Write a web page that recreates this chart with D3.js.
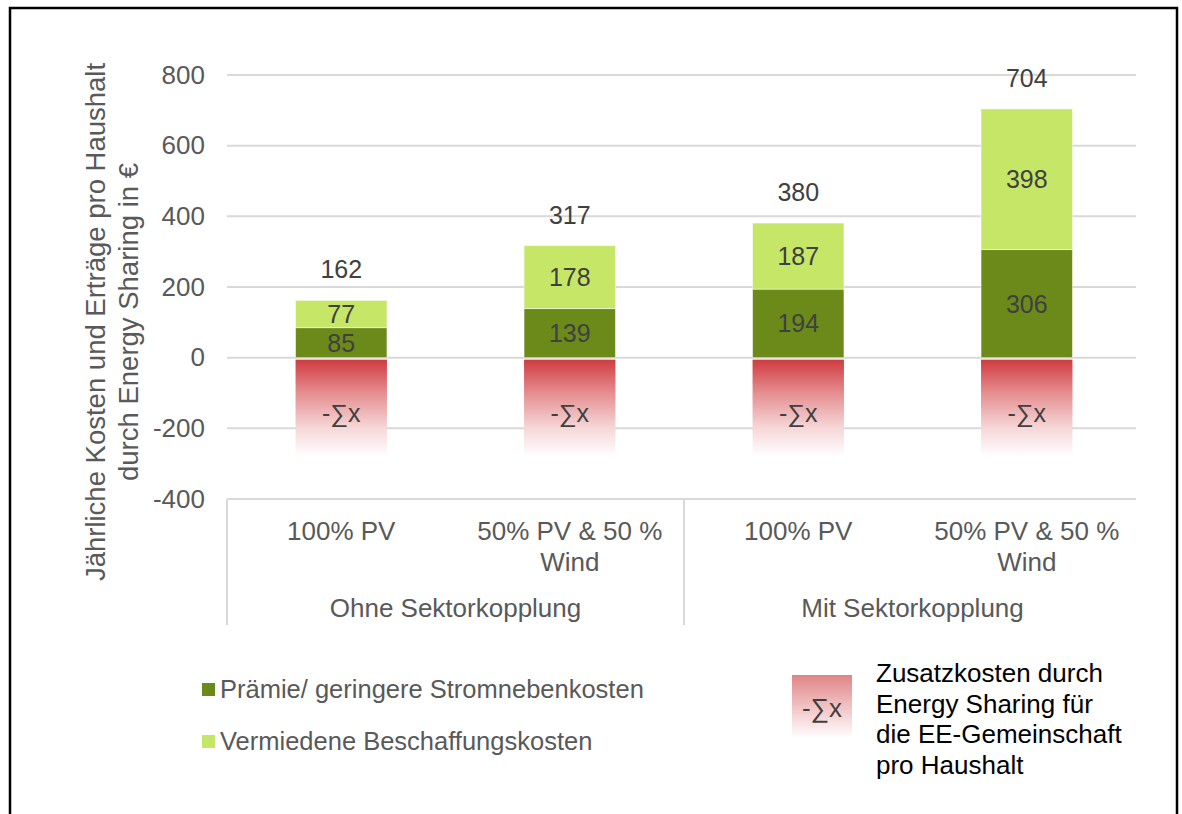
<!DOCTYPE html>
<html>
<head>
<meta charset="utf-8">
<script src="https://cdn.jsdelivr.net/npm/d3@7"></script>
<style>
    body { margin: 0; background: #fff; }
    text { font-family: "Liberation Sans", Arial, sans-serif; }
</style>
</head>
<body>
<div id="chart"></div>
<script>

// Data
const groups = ["Ohne Sektorkopplung", "Mit Sektorkopplung"];
const categories = [["100% PV"], ["50% PV & 50 %", "Wind"], ["100% PV"], ["50% PV & 50 %", "Wind"]];
const praemie = [85, 139, 194, 306];
const vermiedene = [77, 178, 187, 398];
const totals = [162, 317, 380, 704];
const zusatzkosten = [-280, -280, -280, -280];
const yTicks = [-400, -200, 0, 200, 400, 600, 800];
const legendLabels = ["Prämie/ geringere Stromnebenkosten", "Vermiedene Beschaffungskosten"];
const extraLegend = ["Zusatzkosten durch", "Energy Sharing für", "die EE-Gemeinschaft", "pro Haushalt"];

const width = 1182, height = 814;
const darkGreen = "#6b8a19", lightGreen = "#c5e666";
const tickColor = "#595959", labelColor = "#404040";

let svg = d3.select("#chart").append("svg")
    .attr("width", width)
    .attr("height", height);

// gradients
let defs = svg.append("defs");
let redGrad = defs.append("linearGradient")
    .attr("id", "redGrad")
    .attr("x1", 0).attr("y1", 0).attr("x2", 0).attr("y2", 1);
redGrad.append("stop").attr("offset", "0%").attr("stop-color", "#cf3b40");
redGrad.append("stop").attr("offset", "35%").attr("stop-color", "#e58f91");
redGrad.append("stop").attr("offset", "70%").attr("stop-color", "#f6d6d7");
redGrad.append("stop").attr("offset", "100%").attr("stop-color", "#ffffff");

let legGrad = defs.append("linearGradient")
    .attr("id", "legGrad")
    .attr("x1", 0).attr("y1", 0).attr("x2", 0).attr("y2", 1);
legGrad.append("stop").attr("offset", "0%").attr("stop-color", "#e08486");
legGrad.append("stop").attr("offset", "50%").attr("stop-color", "#f1c2c3");
legGrad.append("stop").attr("offset", "100%").attr("stop-color", "#ffffff");

// frame
svg.append("rect")
    .attr("x", 10).attr("y", 8)
    .attr("width", 1167).attr("height", 830)
    .attr("fill", "none")
    .attr("stroke", "#000")
    .attr("stroke-width", 2.5);

// scales
let y = d3.scaleLinear().domain([-400, 800]).range([499, 75]);
let x = d3.scaleBand().domain(d3.range(categories.length)).range([227, 1141]).padding(0);
let barW = x.bandwidth() * 0.4;
let barX = i => x(i) + (x.bandwidth() - barW) / 2;
let gridRight = 1136;

// gridlines
svg.append("g").selectAll("line")
    .data(yTicks)
    .enter().append("line")
    .attr("x1", x.range()[0])
    .attr("x2", gridRight)
    .attr("y1", d => y(d))
    .attr("y2", d => y(d))
    .attr("stroke", "#d9d9d9")
    .attr("stroke-width", 2);

// y axis labels (plain hyphen for negatives, like the original)
let yAxis = d3.axisLeft(y)
    .tickValues(yTicks)
    .tickSize(0)
    .tickPadding(0)
    .tickFormat(d => String(d));
let yG = svg.append("g")
    .attr("transform", "translate(205,0)")
    .call(yAxis);
yG.select(".domain").remove();
yG.selectAll("text")
    .attr("fill", tickColor)
    .style("font-size", "26px")
    .style("font-family", "'Liberation Sans', Arial, sans-serif");

// y title
let yTitle = ["Jährliche Kosten und Erträge pro Haushalt", "durch Energy Sharing in €"];
svg.selectAll(".y-title")
    .data(yTitle)
    .enter().append("text")
    .attr("class", "y-title")
    .attr("transform", (d, i) => "translate(" + (105 + i * 33) + ",322) rotate(-90)")
    .attr("text-anchor", "middle")
    .attr("fill", tickColor)
    .style("font-size", "27.5px")
    .text(d => d);

// negative (cost) bars
svg.append("g").selectAll("rect")
    .data(zusatzkosten)
    .enter().append("rect")
    .attr("x", (d, i) => barX(i))
    .attr("y", y(0) + 2)
    .attr("width", barW)
    .attr("height", d => y(d) - y(0) - 2)
    .attr("fill", "url(#redGrad)");

svg.append("g").selectAll("text")
    .data(zusatzkosten)
    .enter().append("text")
    .attr("x", (d, i) => barX(i) + barW / 2)
    .attr("y", 422)
    .attr("text-anchor", "middle")
    .attr("fill", labelColor)
    .style("font-size", "25px")
    .text("-∑x");

// stacked positive bars
let stacked = praemie.map((p, i) => [
    { y0: 0, y1: p, v: p, color: darkGreen },
    { y0: p, y1: p + vermiedene[i], v: vermiedene[i], color: lightGreen }
]);

let barG = svg.append("g").selectAll("g")
    .data(stacked)
    .enter().append("g");

barG.selectAll("rect")
    .data((d, i) => d.map(s => Object.assign({ i: i }, s)))
    .enter().append("rect")
    .attr("x", d => barX(d.i))
    .attr("y", d => y(d.y1))
    .attr("width", barW)
    .attr("height", d => y(d.y0) - y(d.y1))
    .attr("fill", d => d.color)
    .attr("stroke", "#ffffff")
    .attr("stroke-opacity", 0.5)
    .attr("stroke-width", 1);

barG.selectAll("text")
    .data((d, i) => d.map(s => Object.assign({ i: i }, s)))
    .enter().append("text")
    .attr("x", d => barX(d.i) + barW / 2)
    .attr("y", d => (y(d.y0) + y(d.y1)) / 2 + 9)
    .attr("text-anchor", "middle")
    .attr("fill", labelColor)
    .style("font-size", "25px")
    .text(d => d.v);

// totals
svg.append("g").selectAll("text")
    .data(totals)
    .enter().append("text")
    .attr("x", (d, i) => barX(i) + barW / 2)
    .attr("y", d => y(d) - 22)
    .attr("text-anchor", "middle")
    .attr("fill", labelColor)
    .style("font-size", "25px")
    .text(d => d);

// category axis
let catG = svg.append("g");
[0, 2].forEach(i => {
    catG.append("line")
        .attr("x1", x(i)).attr("x2", x(i))
        .attr("y1", y(-400)).attr("y2", 625)
        .attr("stroke", "#d9d9d9")
        .attr("stroke-width", 2);
});

categories.forEach((lines, i) => {
    catG.append("text")
        .attr("text-anchor", "middle")
        .attr("fill", tickColor)
        .style("font-size", "26px")
        .selectAll("tspan")
        .data(lines)
        .enter().append("tspan")
        .attr("x", barX(i) + barW / 2)
        .attr("y", (d, j) => 540 + j * 30.5)
        .text(d => d);
});

groups.forEach((g, k) => {
    catG.append("text")
        .attr("x", (x(k * 2) + x(k * 2 + 1) + x.bandwidth()) / 2)
        .attr("y", 617)
        .attr("text-anchor", "middle")
        .attr("fill", tickColor)
        .style("font-size", "26px")
        .text(g);
});

// legend
let legColors = [darkGreen, lightGreen];
let leg = svg.append("g").selectAll("g")
    .data(legendLabels)
    .enter().append("g")
    .attr("transform", (d, i) => "translate(202," + (683 + i * 52) + ")");
leg.append("rect")
    .attr("width", 13).attr("height", 13)
    .attr("fill", (d, i) => legColors[i]);
leg.append("text")
    .attr("x", 18)
    .attr("y", 15)
    .attr("fill", tickColor)
    .style("font-size", "25.5px")
    .text(d => d);

// legend for extra costs
svg.append("rect")
    .attr("x", 792).attr("y", 675)
    .attr("width", 60).attr("height", 63)
    .attr("fill", "url(#legGrad)");
svg.append("text")
    .attr("x", 822).attr("y", 717)
    .attr("text-anchor", "middle")
    .attr("fill", labelColor)
    .style("font-size", "26px")
    .text("-∑x");
svg.append("text")
    .attr("fill", "#000")
    .style("font-size", "26px")
    .selectAll("tspan")
    .data(extraLegend)
    .enter().append("tspan")
    .attr("x", 876)
    .attr("y", (d, i) => 682 + i * 30.5)
    .text(d => d);

</script>
</body>
</html>
